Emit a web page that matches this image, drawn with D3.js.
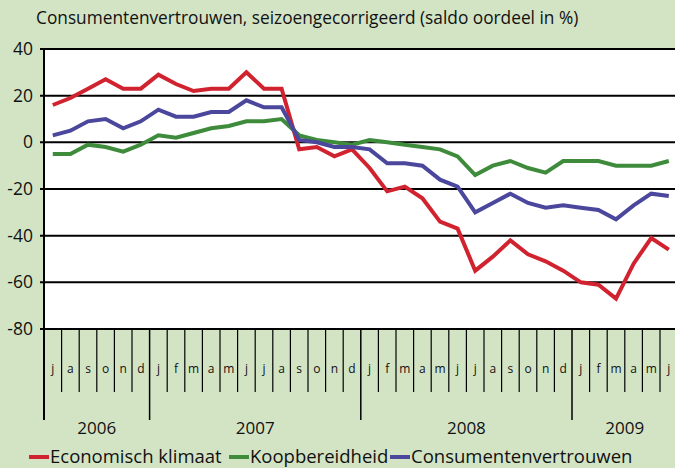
<!DOCTYPE html>
<html><head><meta charset="utf-8">
<script src="https://cdn.jsdelivr.net/npm/d3@7"></script>
<style>body{margin:0;background:#d3e4c5;}svg{display:block;font-family:"Open Sans",sans-serif;}</style>
</head><body><svg id="c" width="675" height="468"></svg>
<script>
const months = ["j","a","s","o","n","d","j","f","m","a","m","j","j","a","s","o","n","d","j","f","m","a","m","j","j","a","s","o","n","d","j","f","m","a","m","j"];
const years = [{label:"2006",start:0,end:6},{label:"2007",start:6,end:18},{label:"2008",start:18,end:30},{label:"2009",start:30,end:36}];
const economischKlimaat = [16,19,23,27,23,23,29,25,22,23,23,30,23,23,-3,-2,-6,-3,-11,-21,-19,-24,-34,-37,-55,-49,-42,-48,-51,-55,-60,-61,-67,-52,-41,-46];
const koopbereidheid = [-5,-5,-1,-2,-4,-1,3,2,4,6,7,9,9,10,3,1,0,-1,1,0,-1,-2,-3,-6,-14,-10,-8,-11,-13,-8,-8,-8,-10,-10,-10,-8];
const consumentenvertrouwen = [3,5,9,10,6,9,14,11,11,13,13,18,15,15,1,0,-2,-2,-3,-9,-9,-10,-16,-19,-30,-26,-22,-26,-28,-27,-28,-29,-33,-27,-22,-23];
const yTicks = [40,20,0,-20,-40,-60,-80];
const seriesNames = ["Economisch klimaat","Koopbereidheid","Consumentenvertrouwen"];
const colors = ["#d1232f","#3f8b3c","#4b479c"];

const svg = d3.select("#c");
const L = 44, T = 49, B = 329, step = 17.6;
const x = d3.scaleBand().domain(d3.range(months.length)).range([L, L + step*months.length]).padding(0);
const y = d3.scaleLinear().domain([-80,40]).range([B,T]);

// title
svg.append("text").attr("x",36).attr("y",24).attr("font-size",17.3).attr("fill","#111")
  .text("Consumentenvertrouwen, seizoengecorrigeerd (saldo oordeel in %)");

// plot background
svg.append("rect").attr("x",L).attr("y",T).attr("width",675-L).attr("height",B-T).attr("fill","#fff");

// gridlines
svg.append("g").selectAll("line").data(yTicks).join("line")
  .attr("x1",L-4).attr("x2",675).attr("y1",d=>y(d)).attr("y2",d=>y(d))
  .attr("stroke","#000").attr("stroke-width",2);
// y labels
svg.append("g").selectAll("text").data(yTicks).join("text")
  .attr("x",33).attr("y",d=>y(d)+6).attr("text-anchor","end").attr("font-size",17.5).attr("fill","#111")
  .text(d=>d);

// x ticks
const g = svg.append("g");
const idx = d3.range(months.length);
const bounds = idx.map(i=>x(i));
const yearStarts = new Set(years.map(d=>d.start));
g.selectAll("line.t").data(bounds).join("line").attr("class","t")
  .attr("x1",d=>d).attr("x2",d=>d).attr("y1",B).attr("y2",(d,i)=>yearStarts.has(i)?420:392)
  .attr("stroke","#000").attr("stroke-width",(d,i)=>yearStarts.has(i)?1.5:1.2);
g.selectAll("text.m").data(months).join("text").attr("class","m")
  .attr("x",(d,i)=>x(i)+x.bandwidth()/2).attr("y",373).attr("text-anchor","middle")
  .attr("font-size",12).attr("fill","#111").text(d=>d);
g.selectAll("text.y").data(years).join("text").attr("class","y")
  .attr("x",d=>(x(d.start)+x(d.start)+step*(d.end-d.start))/2).attr("y",434)
  .attr("text-anchor","middle").attr("font-size",17).attr("fill","#111").text(d=>d.label);
// left axis line
svg.append("line").attr("x1",L).attr("x2",L).attr("y1",T-1).attr("y2",420).attr("stroke","#000").attr("stroke-width",2);

// lines
const line = d3.line().x((d,i)=>x(i)+x.bandwidth()/2).y(d=>y(d));
[economischKlimaat,koopbereidheid,consumentenvertrouwen].forEach((s,k)=>{
  svg.append("path").datum(s).attr("d",line).attr("fill","none")
    .attr("stroke",colors[k]).attr("stroke-width",4).attr("stroke-linejoin","miter");
});

// legend
const legX = [29,229,390];
const lg = svg.append("g");
seriesNames.forEach((n,k)=>{
  lg.append("rect").attr("x",legX[k]).attr("y",455).attr("width",20).attr("height",4).attr("fill",colors[k]);
  lg.append("text").attr("x",legX[k]+21).attr("y",463).attr("font-size",18.5).attr("fill","#111").text(n);
});
</script></body></html>
